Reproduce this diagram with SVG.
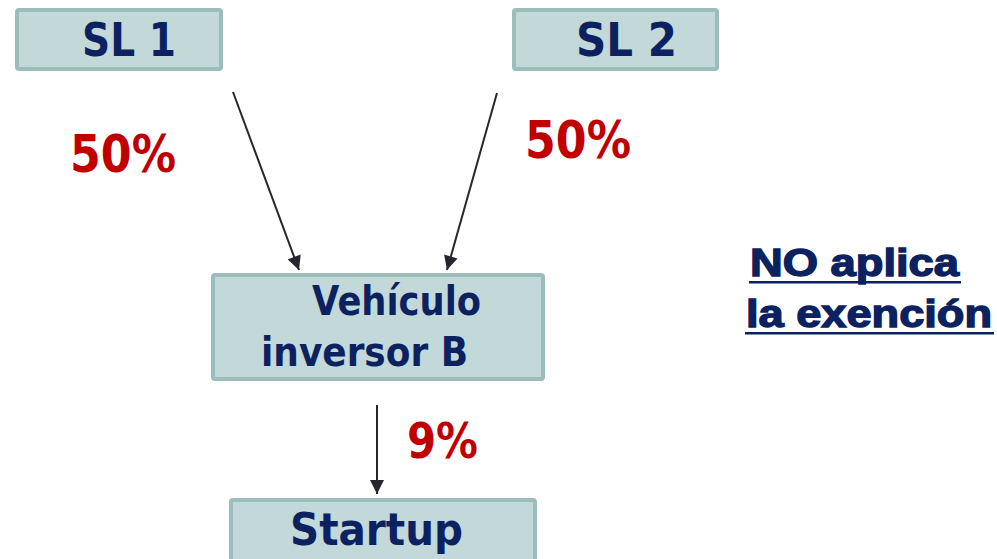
<svg xmlns="http://www.w3.org/2000/svg" width="997" height="559" viewBox="0 0 997 559">
<style>
.box{fill:#c3d8d8;stroke:#9dbdbd;stroke-width:4}
.lbl{font-family:"DejaVu Sans",Verdana,sans-serif;font-weight:bold;fill:#0c2260}
.pct{font-family:"DejaVu Sans",Verdana,sans-serif;font-weight:bold;fill:#c00000}
.note{font-family:"Liberation Sans",Arial,sans-serif;font-weight:bold;fill:#0c2260;stroke:#0c2260;stroke-width:1.4}
.edge{stroke:#26262e;stroke-width:2;fill:none;marker-end:url(#ah)}
</style>
<defs>
<marker id="ah" viewBox="0 0 10 10" refX="10" refY="5" markerWidth="7.5" markerHeight="7" orient="auto" markerUnits="strokeWidth">
<path d="M0,0 L10,5 L0,10 Z" fill="#26262e"/>
</marker>
</defs>
<rect width="997" height="559" fill="#ffffff"/>
<g id="sl1">
<rect class="box" x="17" y="10" width="204" height="59" rx="2"/>
<text class="lbl" x="82" y="56" font-size="46" textLength="94" lengthAdjust="spacingAndGlyphs">SL 1</text>
</g>
<g id="sl2">
<rect class="box" x="514" y="10" width="203" height="59" rx="2"/>
<text class="lbl" x="576" y="56" font-size="46" textLength="101" lengthAdjust="spacingAndGlyphs">SL 2</text>
</g>
<g id="vehiculo">
<rect class="box" x="213" y="275" width="330" height="104" rx="2"/>
<text class="lbl" x="312" y="315" font-size="40" textLength="169" lengthAdjust="spacingAndGlyphs">Vehículo</text>
<text class="lbl" x="261" y="366" font-size="40" textLength="207" lengthAdjust="spacingAndGlyphs">inversor  B</text>
</g>
<g id="startup">
<rect class="box" x="231" y="500" width="304" height="70" rx="2"/>
<text class="lbl" x="290" y="545" font-size="44" textLength="173" lengthAdjust="spacingAndGlyphs">Startup</text>
</g>
<g id="connectors">
<line class="edge" x1="233" y1="92" x2="299" y2="270"/>
<line class="edge" x1="497" y1="93" x2="447" y2="270"/>
<line class="edge" x1="377" y1="405" x2="377" y2="494"/>
</g>
<g id="labels">
<text class="pct" x="70" y="172" font-size="52" textLength="106" lengthAdjust="spacingAndGlyphs">50%</text>
<text class="pct" x="525" y="158" font-size="52" textLength="106" lengthAdjust="spacingAndGlyphs">50%</text>
<text class="pct" x="407" y="458" font-size="50" textLength="71" lengthAdjust="spacingAndGlyphs">9%</text>
</g>
<g id="note">
<text class="note" x="750" y="276" font-size="38" textLength="209" lengthAdjust="spacingAndGlyphs">NO aplica</text>
<rect x="749" y="281" width="212" height="2.5" fill="#0c2260"/>
<text class="note" x="746" y="327" font-size="38" textLength="246" lengthAdjust="spacingAndGlyphs">la exención</text>
<rect x="745" y="332" width="249" height="2.5" fill="#0c2260"/>
</g>
</svg>
